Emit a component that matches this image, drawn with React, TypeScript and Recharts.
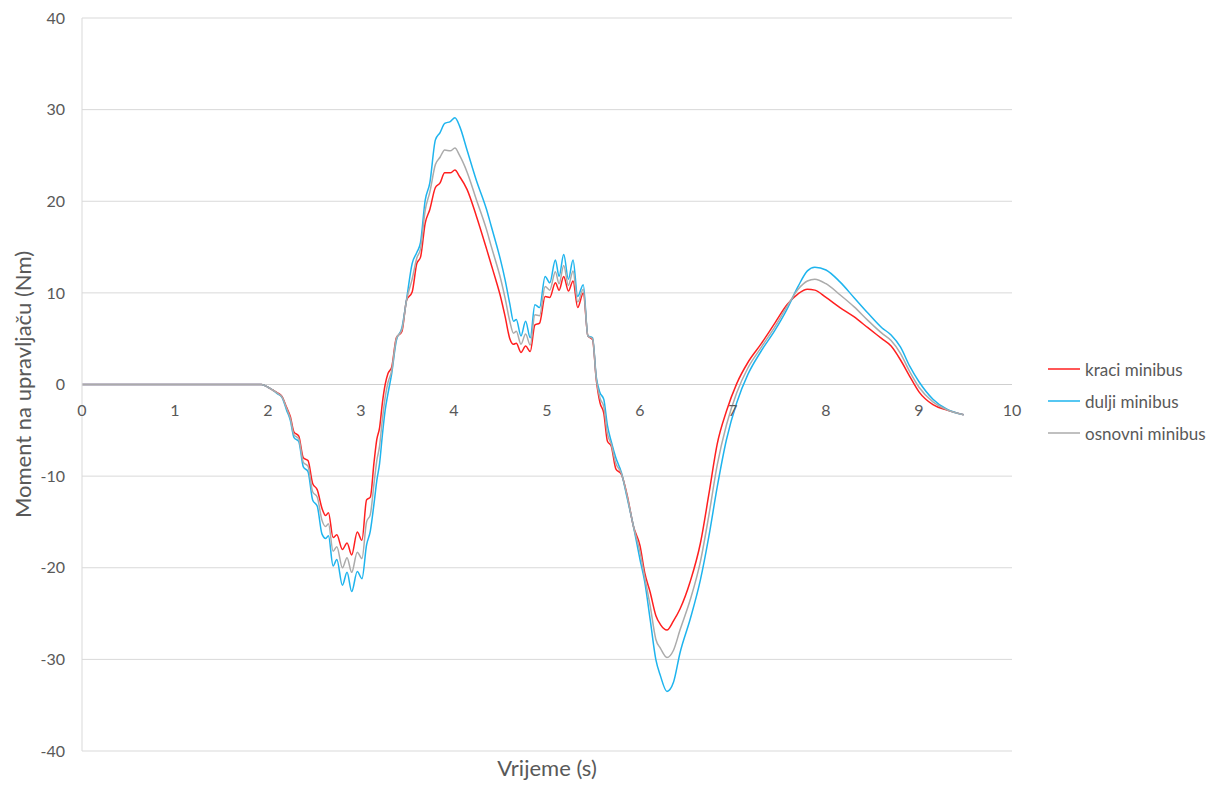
import React from 'react';
import { LineChart, Line, XAxis, YAxis, CartesianGrid, ReferenceLine, ReferenceDot, Legend } from 'recharts';

const FONT = 'Lato, "Open Sans", "DejaVu Sans", sans-serif';
const TEXT = '#595959';

const times = [
  0, 0.5, 1, 1.5, 1.93,
  2.0, 2.05, 2.1, 2.15, 2.2, 2.24, 2.28, 2.33, 2.38, 2.43,
  2.48, 2.53, 2.58, 2.62, 2.65, 2.7, 2.74, 2.8, 2.85, 2.9,
  2.96, 3.01, 3.06, 3.1, 3.14, 3.17, 3.2, 3.23, 3.26, 3.29,
  3.33, 3.38, 3.44, 3.49, 3.55, 3.6, 3.64, 3.69, 3.74, 3.8,
  3.85, 3.9, 3.96, 4.01, 4.06, 4.14, 4.24, 4.35,
  4.4, 4.45, 4.5, 4.55, 4.6, 4.64, 4.67, 4.72, 4.77, 4.82,
  4.87, 4.92, 4.98, 5.03, 5.09, 5.13, 5.18, 5.23, 5.28, 5.33,
  5.39, 5.44, 5.49, 5.53, 5.57, 5.61, 5.65, 5.69, 5.74, 5.8,
  5.86, 5.93, 6.0, 6.05, 6.11, 6.17, 6.22, 6.29, 6.36, 6.43,
  6.54, 6.65, 6.74, 6.83, 6.93, 7.04, 7.16, 7.3, 7.45, 7.58,
  7.7, 7.8, 7.88, 8.0, 8.15, 8.3, 8.45, 8.6, 8.7, 8.8,
  8.9, 9.0, 9.15, 9.3, 9.48,
];

const kraci = [
  0, 0, 0, 0, 0,
  -0.3, -0.6, -0.9, -1.3, -2.5, -3.5, -5.2, -5.6, -8.0, -8.3,
  -10.8, -11.5, -13.5, -14.3, -14.0, -16.7, -16.4, -18.0, -17.3, -18.6,
  -16.1, -17.0, -12.6, -12.3, -8.5, -6.0, -4.7, -2.0, 0, 1.2,
  1.9, 5.1, 5.8, 9.2, 10.1, 13.2, 13.9, 17.6, 19.1, 21.5,
  22.0, 23.1, 23.1, 23.4, 22.7, 21.3, 18.4, 14.8,
  13.1, 11.4, 9.6, 7.4, 5.0, 4.4, 4.5, 3.5, 4.2, 3.6,
  6.5, 6.7, 9.6, 9.5, 11.1, 10.3, 11.8, 10.2, 11.3, 8.4,
  10.0, 5.3, 4.9, 0.5, -2.0, -3.1, -6.2, -6.7, -9.2, -9.8,
  -12.0, -15.5, -17.6, -20.5, -22.7, -25.2, -26.2, -26.8, -25.8, -24.5,
  -21.5, -17.3, -12.0, -6.5, -2.9, 0.1, 2.4, 4.4, 6.7, 8.7,
  9.9, 10.4, 10.3, 9.5, 8.4, 7.4, 6.2, 5.0, 4.2, 2.7,
  0.9, -0.8, -2.2, -2.8, -3.3,
];

const dulji = [
  0, 0, 0, 0, 0,
  -0.3, -0.6, -1.0, -1.4, -2.8, -3.9, -5.8, -6.2, -9.0, -9.5,
  -12.6, -13.3, -16.3, -16.8, -16.5, -19.8, -19.1, -21.9, -20.5, -22.6,
  -20.4, -21.2, -17.5, -16.0, -13.0, -10.5, -8.6, -5.5, -2.8, -1.0,
  1.2, 4.8, 6.2, 9.3, 13.2, 14.4, 15.5, 20.1, 22.0, 26.7,
  27.5, 28.5, 28.7, 29.1, 28.2, 25.6, 22.3, 19.1,
  17.3, 15.5, 13.6, 11.4, 8.8, 6.9, 7.1, 5.3, 6.9, 5.1,
  8.7, 8.4, 11.8, 11.1, 13.6, 11.8, 14.2, 11.5, 13.6, 9.6,
  10.9, 5.3, 5.1, 0.8, -0.9, -1.6, -4.5, -6.2, -8.0, -9.6,
  -12.3, -15.5, -19.1, -21.5, -25.7, -30.0, -31.8, -33.5, -32.5, -29.3,
  -25.6, -21.3, -16.6, -11.2, -6.0, -2.0, 1.1, 3.6, 5.9, 8.2,
  10.7, 12.4, 12.8, 12.5, 11.2, 9.5, 7.8, 6.2, 5.4, 4.1,
  2.0, 0.3, -1.6, -2.7, -3.3,
];

const osnovni = [
  0, 0, 0, 0, 0,
  -0.3, -0.6, -0.95, -1.35, -2.6, -3.7, -5.5, -5.9, -8.5, -8.9,
  -11.7, -12.3, -14.8, -15.5, -15.2, -18.2, -17.7, -20.0, -18.9, -20.5,
  -18.3, -19.0, -15.0, -14.2, -10.8, -8.3, -6.7, -3.8, -1.4, 0.2,
  1.5, 5.0, 6.0, 9.2, 11.5, 13.8, 14.8, 19.0, 21.0, 24.0,
  24.8, 25.6, 25.5, 25.8, 25.0, 23.2, 20.2, 16.9,
  15.1, 13.4, 11.6, 9.4, 6.9, 5.6, 5.8, 4.4, 5.5, 4.3,
  7.6, 7.5, 10.7, 10.3, 12.3, 11.0, 13.0, 10.8, 12.4, 9.0,
  10.4, 5.3, 5.0, 0.6, -1.5, -2.4, -5.4, -6.5, -8.6, -9.7,
  -12.1, -15.5, -18.3, -21.0, -24.2, -27.8, -28.8, -29.8, -29.0, -26.8,
  -23.5, -19.3, -14.3, -8.8, -4.4, -0.9, 1.8, 4.0, 6.3, 8.5,
  10.4, 11.3, 11.5, 11.0, 9.8, 8.5, 7.0, 5.6, 4.8, 3.4,
  1.4, -0.3, -1.9, -2.75, -3.3,
];

const xTicks = [0, 1, 2, 3, 4, 5, 6, 7, 8, 9, 10];
const yTicks = [-40, -30, -20, -10, 0, 10, 20, 30, 40];
const seriesNames = ['kraci minibus', 'dulji minibus', 'osnovni minibus'];
const seriesColors = ['#FF1F1F', '#1EB4EE', '#ABABAB'];
const xTitle = 'Vrijeme (s)';
const yTitle = 'Moment na upravljaču (Nm)';

const YTitle = (props: any) => {
  const vb = props.viewBox || { x: 22, y: 18, width: 60, height: 733 };
  const cx = vb.x;
  const cy = vb.y + vb.height / 2;
  return (
    <text
      x={cx}
      y={cy}
      transform={`rotate(-90 ${cx} ${cy})`}
      textAnchor="middle"
      dominantBaseline="central"
      fill={TEXT}
      fontSize={22}
      fontFamily={FONT}
    >
      {yTitle}
    </text>
  );
};

const LegendContent = (props: any) => {
  const payload = [...(props.payload || [])].sort(
    (a: any, b: any) => seriesNames.indexOf(a.value) - seriesNames.indexOf(b.value)
  );
  return (
    <div style={{ fontFamily: FONT, fontSize: 17, color: TEXT }}>
      {payload.map((p: any) => (
        <div key={p.value} style={{ display: 'flex', alignItems: 'center', height: 32 }}>
          <svg width={37} height={4} style={{ flex: 'none' }}>
            <line x1={0} y1={2} x2={32} y2={2} stroke={p.color} strokeWidth={1.5} />
          </svg>
          <span style={{ whiteSpace: 'nowrap' }}>{p.value}</span>
        </div>
      ))}
    </div>
  );
};

export default function App() {
  const data = times.map((t, i) => ({ t, kraci: kraci[i], dulji: dulji[i], osnovni: osnovni[i] }));
  return (
    <div style={{ position: 'absolute', left: 0, top: 0, width: 1218, height: 785, background: '#fff' }}>
      <LineChart width={1218} height={785} data={data} margin={{ top: 18, right: 36, bottom: 0, left: 22 }}>
        <CartesianGrid horizontal vertical={false} stroke="#d9d9d9" />
        <XAxis
          dataKey="t"
          type="number"
          domain={[0, 10]}
          ticks={xTicks}
          tick={false}
          tickLine={false}
          axisLine={false}
          height={34}
          label={{ value: xTitle, position: 'center', fill: TEXT, fontSize: 22, fontFamily: FONT }}
        />
        <YAxis
          type="number"
          domain={[-40, 40]}
          ticks={yTicks}
          width={60}
          tickSize={0}
          tickMargin={17}
          tickLine={false}
          axisLine={{ stroke: '#d9d9d9' }}
          tick={{ fill: TEXT, fontSize: 16, fontFamily: FONT }}
          label={{ content: YTitle }}
        />
        <ReferenceLine y={0} stroke="#cfcfcf" />
        {xTicks.map((t) => (
          <ReferenceDot
            key={t}
            x={t}
            y={0}
            r={0}
            fill="none"
            stroke="none"
            label={{ value: String(t), position: 'bottom', offset: 20, fill: TEXT, fontSize: 16, fontFamily: FONT }}
          />
        ))}
        <Line type="monotone" dataKey="kraci" name={seriesNames[0]} stroke={seriesColors[0]} strokeWidth={1.5} dot={false} isAnimationActive={false} />
        <Line type="monotone" dataKey="dulji" name={seriesNames[1]} stroke={seriesColors[1]} strokeWidth={1.5} dot={false} isAnimationActive={false} />
        <Line type="monotone" dataKey="osnovni" name={seriesNames[2]} stroke={seriesColors[2]} strokeWidth={1.5} dot={false} isAnimationActive={false} />
        <Legend
          layout="horizontal"
          verticalAlign="middle"
          align="right"
          content={LegendContent}
          wrapperStyle={{ left: 1048, top: 353, width: 170 }}
        />
      </LineChart>
    </div>
  );
}
